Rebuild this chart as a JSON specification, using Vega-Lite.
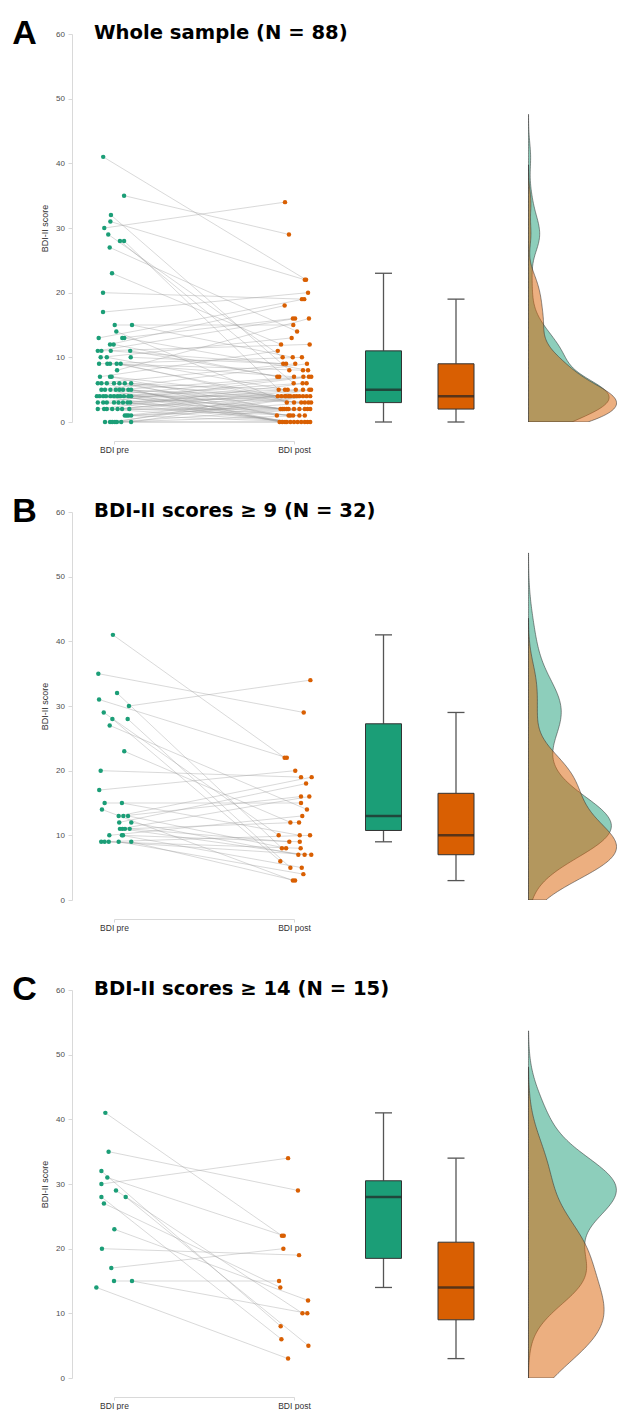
{
"$schema": "https://vega.github.io/schema/vega-lite/v6.json",
"padding": {"left": 11, "top": 16, "right": 0, "bottom": 0},
"background": "white",
"spacing": 40,
"config": {
  "view": {"stroke": null},
  "font": "Liberation Sans",
  "axisY": {"domainColor": "#d9d9d9", "tickColor": "#d9d9d9", "tickSize": 4, "labelFontSize": 8, "labelColor": "#4d4d4d", "labelPadding": 3.5, "titleFontSize": 9, "titleFontWeight": "normal", "titleColor": "#333333", "titlePadding": 6, "grid": false, "labelFont": "Liberation Sans", "titleFont": "Liberation Sans"}
},
"datasets": {
"A": [
{"id":1,"cond":"BDI pre","score":41,"jit":-0.06},{"id":1,"cond":"BDI post","score":22,"jit":0.067},
{"id":2,"cond":"BDI pre","score":35,"jit":0.056},{"id":2,"cond":"BDI post","score":29,"jit":-0.028},
{"id":3,"cond":"BDI pre","score":32,"jit":-0.017},{"id":3,"cond":"BDI post","score":8,"jit":-0.026},
{"id":4,"cond":"BDI pre","score":31,"jit":-0.02},{"id":4,"cond":"BDI post","score":22,"jit":0.06},
{"id":5,"cond":"BDI pre","score":30,"jit":-0.054},{"id":5,"cond":"BDI post","score":34,"jit":-0.05},
{"id":6,"cond":"BDI pre","score":29,"jit":-0.032},{"id":6,"cond":"BDI post","score":10,"jit":-0.063},
{"id":7,"cond":"BDI pre","score":28,"jit":0.033},{"id":7,"cond":"BDI post","score":6,"jit":-0.002},
{"id":8,"cond":"BDI pre","score":28,"jit":0.056},{"id":8,"cond":"BDI post","score":5,"jit":-0.085},
{"id":9,"cond":"BDI pre","score":27,"jit":-0.024},{"id":9,"cond":"BDI post","score":14,"jit":0.017},
{"id":10,"cond":"BDI pre","score":23,"jit":-0.011},{"id":10,"cond":"BDI post","score":12,"jit":-0.072},
{"id":11,"cond":"BDI pre","score":20,"jit":-0.061},{"id":11,"cond":"BDI post","score":19,"jit":0.044},
{"id":12,"cond":"BDI pre","score":17,"jit":-0.061},{"id":12,"cond":"BDI post","score":20,"jit":0.078},
{"id":13,"cond":"BDI pre","score":15,"jit":0.004},{"id":13,"cond":"BDI post","score":15,"jit":-0.004},
{"id":14,"cond":"BDI pre","score":15,"jit":0.1},{"id":14,"cond":"BDI post","score":10,"jit":-0.007},
{"id":15,"cond":"BDI pre","score":14,"jit":0.013},{"id":15,"cond":"BDI post","score":3,"jit":-0.04},
{"id":16,"cond":"BDI pre","score":13,"jit":-0.085},{"id":16,"cond":"BDI post","score":19,"jit":0.057},
{"id":17,"cond":"BDI pre","score":13,"jit":0.046},{"id":17,"cond":"BDI post","score":16,"jit":-0.006},
{"id":18,"cond":"BDI pre","score":13,"jit":0.057},{"id":18,"cond":"BDI post","score":8,"jit":0.078},
{"id":19,"cond":"BDI pre","score":12,"jit":-0.022},{"id":19,"cond":"BDI post","score":18,"jit":-0.052},
{"id":20,"cond":"BDI pre","score":12,"jit":-0.002},{"id":20,"cond":"BDI post","score":7,"jit":-0.093},
{"id":21,"cond":"BDI pre","score":11,"jit":-0.09},{"id":21,"cond":"BDI post","score":16,"jit":0.006},
{"id":22,"cond":"BDI pre","score":11,"jit":-0.07},{"id":22,"cond":"BDI post","score":12,"jit":0.087},
{"id":23,"cond":"BDI pre","score":11,"jit":-0.018},{"id":23,"cond":"BDI post","score":9,"jit":-0.06},
{"id":24,"cond":"BDI pre","score":11,"jit":0.09},{"id":24,"cond":"BDI post","score":7,"jit":-0.082},
{"id":25,"cond":"BDI pre","score":10,"jit":-0.074},{"id":25,"cond":"BDI post","score":13,"jit":-0.013},
{"id":26,"cond":"BDI pre","score":10,"jit":-0.04},{"id":26,"cond":"BDI post","score":5,"jit":-0.05},
{"id":27,"cond":"BDI pre","score":10,"jit":0.093},{"id":27,"cond":"BDI post","score":9,"jit":-0.044},
{"id":28,"cond":"BDI pre","score":9,"jit":-0.083},{"id":28,"cond":"BDI post","score":10,"jit":0.044},
{"id":29,"cond":"BDI pre","score":9,"jit":-0.037},{"id":29,"cond":"BDI post","score":8,"jit":0.05},
{"id":30,"cond":"BDI pre","score":9,"jit":-0.022},{"id":30,"cond":"BDI post","score":7,"jit":0.0},
{"id":31,"cond":"BDI pre","score":9,"jit":0.015},{"id":31,"cond":"BDI post","score":4,"jit":-0.09},
{"id":32,"cond":"BDI pre","score":9,"jit":0.037},{"id":32,"cond":"BDI post","score":3,"jit":0.0},
{"id":33,"cond":"BDI pre","score":8,"jit":0.017},{"id":33,"cond":"BDI post","score":16,"jit":0.083},
{"id":34,"cond":"BDI pre","score":7,"jit":-0.078},{"id":34,"cond":"BDI post","score":11,"jit":-0.09},
{"id":35,"cond":"BDI pre","score":7,"jit":-0.022},{"id":35,"cond":"BDI post","score":2,"jit":-0.075},
{"id":36,"cond":"BDI pre","score":7,"jit":-0.013},{"id":36,"cond":"BDI post","score":4,"jit":-0.07},
{"id":37,"cond":"BDI pre","score":6,"jit":-0.09},{"id":37,"cond":"BDI post","score":9,"jit":0.007},
{"id":38,"cond":"BDI pre","score":6,"jit":-0.07},{"id":38,"cond":"BDI post","score":0,"jit":-0.08},
{"id":39,"cond":"BDI pre","score":6,"jit":-0.04},{"id":39,"cond":"BDI post","score":4,"jit":-0.05},
{"id":40,"cond":"BDI pre","score":6,"jit":0.0},{"id":40,"cond":"BDI post","score":2,"jit":-0.065},
{"id":41,"cond":"BDI pre","score":6,"jit":0.03},{"id":41,"cond":"BDI post","score":5,"jit":-0.035},
{"id":42,"cond":"BDI pre","score":6,"jit":0.06},{"id":42,"cond":"BDI post","score":1,"jit":-0.095},
{"id":43,"cond":"BDI pre","score":6,"jit":0.095},{"id":43,"cond":"BDI post","score":3,"jit":0.04},
{"id":44,"cond":"BDI pre","score":5,"jit":-0.07},{"id":44,"cond":"BDI post","score":9,"jit":0.072},
{"id":45,"cond":"BDI pre","score":5,"jit":-0.05},{"id":45,"cond":"BDI post","score":0,"jit":-0.065},
{"id":46,"cond":"BDI pre","score":5,"jit":-0.02},{"id":46,"cond":"BDI post","score":2,"jit":-0.055},
{"id":47,"cond":"BDI pre","score":5,"jit":0.01},{"id":47,"cond":"BDI post","score":4,"jit":-0.045},
{"id":48,"cond":"BDI pre","score":5,"jit":0.03},{"id":48,"cond":"BDI post","score":7,"jit":0.052},
{"id":49,"cond":"BDI pre","score":5,"jit":0.05},{"id":49,"cond":"BDI post","score":1,"jit":-0.03},
{"id":50,"cond":"BDI pre","score":5,"jit":0.08},{"id":50,"cond":"BDI post","score":3,"jit":0.06},
{"id":51,"cond":"BDI pre","score":5,"jit":0.095},{"id":51,"cond":"BDI post","score":0,"jit":-0.05},
{"id":52,"cond":"BDI pre","score":4,"jit":-0.095},{"id":52,"cond":"BDI post","score":7,"jit":0.083},
{"id":53,"cond":"BDI pre","score":4,"jit":-0.08},{"id":53,"cond":"BDI post","score":0,"jit":-0.04},
{"id":54,"cond":"BDI pre","score":4,"jit":-0.06},{"id":54,"cond":"BDI post","score":2,"jit":-0.04},
{"id":55,"cond":"BDI pre","score":4,"jit":-0.045},{"id":55,"cond":"BDI post","score":4,"jit":-0.03},
{"id":56,"cond":"BDI pre","score":4,"jit":-0.02},{"id":56,"cond":"BDI post","score":5,"jit":0.01},
{"id":57,"cond":"BDI pre","score":4,"jit":0.0},{"id":57,"cond":"BDI post","score":1,"jit":-0.02},
{"id":58,"cond":"BDI pre","score":4,"jit":0.02},{"id":58,"cond":"BDI post","score":6,"jit":0.048},
{"id":59,"cond":"BDI pre","score":4,"jit":0.035},{"id":59,"cond":"BDI post","score":0,"jit":-0.02},
{"id":60,"cond":"BDI pre","score":4,"jit":0.055},{"id":60,"cond":"BDI post","score":2,"jit":-0.03},
{"id":61,"cond":"BDI pre","score":4,"jit":0.08},{"id":61,"cond":"BDI post","score":4,"jit":-0.02},
{"id":62,"cond":"BDI pre","score":4,"jit":0.095},{"id":62,"cond":"BDI post","score":3,"jit":0.08},
{"id":63,"cond":"BDI pre","score":3,"jit":-0.09},{"id":63,"cond":"BDI post","score":7,"jit":0.096},
{"id":64,"cond":"BDI pre","score":3,"jit":-0.06},{"id":64,"cond":"BDI post","score":0,"jit":0.0},
{"id":65,"cond":"BDI pre","score":3,"jit":-0.04},{"id":65,"cond":"BDI post","score":2,"jit":0.0},
{"id":66,"cond":"BDI pre","score":3,"jit":0.0},{"id":66,"cond":"BDI post","score":4,"jit":0.0},
{"id":67,"cond":"BDI pre","score":3,"jit":0.025},{"id":67,"cond":"BDI post","score":5,"jit":0.05},
{"id":68,"cond":"BDI pre","score":3,"jit":0.05},{"id":68,"cond":"BDI post","score":1,"jit":-0.005},
{"id":69,"cond":"BDI pre","score":3,"jit":0.075},{"id":69,"cond":"BDI post","score":0,"jit":0.02},
{"id":70,"cond":"BDI pre","score":3,"jit":0.09},{"id":70,"cond":"BDI post","score":4,"jit":0.015},
{"id":71,"cond":"BDI pre","score":2,"jit":-0.09},{"id":71,"cond":"BDI post","score":6,"jit":0.07},
{"id":72,"cond":"BDI pre","score":2,"jit":-0.055},{"id":72,"cond":"BDI post","score":2,"jit":0.03},
{"id":73,"cond":"BDI pre","score":2,"jit":-0.04},{"id":73,"cond":"BDI post","score":0,"jit":0.04},
{"id":74,"cond":"BDI pre","score":2,"jit":-0.01},{"id":74,"cond":"BDI post","score":4,"jit":0.03},
{"id":75,"cond":"BDI pre","score":2,"jit":0.02},{"id":75,"cond":"BDI post","score":5,"jit":0.085},
{"id":76,"cond":"BDI pre","score":2,"jit":0.045},{"id":76,"cond":"BDI post","score":2,"jit":0.06},
{"id":77,"cond":"BDI pre","score":2,"jit":0.085},{"id":77,"cond":"BDI post","score":1,"jit":0.03},
{"id":78,"cond":"BDI pre","score":1,"jit":0.06},{"id":78,"cond":"BDI post","score":4,"jit":0.05},
{"id":79,"cond":"BDI pre","score":1,"jit":0.07},{"id":79,"cond":"BDI post","score":0,"jit":0.06},
{"id":80,"cond":"BDI pre","score":1,"jit":0.08},{"id":80,"cond":"BDI post","score":2,"jit":0.075},
{"id":81,"cond":"BDI pre","score":1,"jit":0.095},{"id":81,"cond":"BDI post","score":3,"jit":0.095},
{"id":82,"cond":"BDI pre","score":0,"jit":-0.05},{"id":82,"cond":"BDI post","score":0,"jit":0.075},
{"id":83,"cond":"BDI pre","score":0,"jit":-0.022},{"id":83,"cond":"BDI post","score":4,"jit":0.07},
{"id":84,"cond":"BDI pre","score":0,"jit":-0.01},{"id":84,"cond":"BDI post","score":2,"jit":0.09},
{"id":85,"cond":"BDI pre","score":0,"jit":0.005},{"id":85,"cond":"BDI post","score":5,"jit":0.095},
{"id":86,"cond":"BDI pre","score":0,"jit":0.016},{"id":86,"cond":"BDI post","score":1,"jit":0.06},
{"id":87,"cond":"BDI pre","score":0,"jit":0.04},{"id":87,"cond":"BDI post","score":0,"jit":0.09},
{"id":88,"cond":"BDI pre","score":0,"jit":0.095},{"id":88,"cond":"BDI post","score":4,"jit":0.09}
],
"B": [
{"id":1,"cond":"BDI pre","score":41,"jit":-0.006},{"id":1,"cond":"BDI post","score":22,"jit":-0.052},
{"id":2,"cond":"BDI pre","score":35,"jit":-0.087},{"id":2,"cond":"BDI post","score":29,"jit":0.054},
{"id":3,"cond":"BDI pre","score":32,"jit":0.017},{"id":3,"cond":"BDI post","score":8,"jit":-0.067},
{"id":4,"cond":"BDI pre","score":31,"jit":-0.083},{"id":4,"cond":"BDI post","score":22,"jit":-0.04},
{"id":5,"cond":"BDI pre","score":30,"jit":0.083},{"id":5,"cond":"BDI post","score":34,"jit":0.091},
{"id":6,"cond":"BDI pre","score":29,"jit":-0.057},{"id":6,"cond":"BDI post","score":10,"jit":-0.085},
{"id":7,"cond":"BDI pre","score":28,"jit":-0.009},{"id":7,"cond":"BDI post","score":6,"jit":-0.076},
{"id":8,"cond":"BDI pre","score":28,"jit":0.076},{"id":8,"cond":"BDI post","score":5,"jit":-0.02},
{"id":9,"cond":"BDI pre","score":27,"jit":-0.024},{"id":9,"cond":"BDI post","score":14,"jit":0.072},
{"id":10,"cond":"BDI pre","score":23,"jit":0.057},{"id":10,"cond":"BDI post","score":12,"jit":-0.02},
{"id":11,"cond":"BDI pre","score":20,"jit":-0.074},{"id":11,"cond":"BDI post","score":19,"jit":0.039},
{"id":12,"cond":"BDI pre","score":17,"jit":-0.082},{"id":12,"cond":"BDI post","score":20,"jit":0.007},
{"id":13,"cond":"BDI pre","score":15,"jit":-0.052},{"id":13,"cond":"BDI post","score":15,"jit":0.039},
{"id":14,"cond":"BDI pre","score":15,"jit":0.044},{"id":14,"cond":"BDI post","score":10,"jit":0.032},
{"id":15,"cond":"BDI pre","score":14,"jit":-0.067},{"id":15,"cond":"BDI post","score":3,"jit":-0.006},
{"id":16,"cond":"BDI pre","score":13,"jit":0.026},{"id":16,"cond":"BDI post","score":19,"jit":0.098},
{"id":17,"cond":"BDI pre","score":13,"jit":0.052},{"id":17,"cond":"BDI post","score":16,"jit":0.039},
{"id":18,"cond":"BDI pre","score":13,"jit":0.078},{"id":18,"cond":"BDI post","score":8,"jit":-0.044},
{"id":19,"cond":"BDI pre","score":12,"jit":0.029},{"id":19,"cond":"BDI post","score":18,"jit":0.067},
{"id":20,"cond":"BDI pre","score":12,"jit":0.096},{"id":20,"cond":"BDI post","score":7,"jit":0.024},
{"id":21,"cond":"BDI pre","score":11,"jit":0.033},{"id":21,"cond":"BDI post","score":16,"jit":0.085},
{"id":22,"cond":"BDI pre","score":11,"jit":0.061},{"id":22,"cond":"BDI post","score":12,"jit":0.028},
{"id":23,"cond":"BDI pre","score":11,"jit":0.087},{"id":23,"cond":"BDI post","score":9,"jit":-0.026},
{"id":24,"cond":"BDI pre","score":11,"jit":0.047},{"id":24,"cond":"BDI post","score":7,"jit":0.059},
{"id":25,"cond":"BDI pre","score":10,"jit":-0.026},{"id":25,"cond":"BDI post","score":13,"jit":0.046},
{"id":26,"cond":"BDI pre","score":10,"jit":0.044},{"id":26,"cond":"BDI post","score":5,"jit":0.043},
{"id":27,"cond":"BDI pre","score":10,"jit":0.05},{"id":27,"cond":"BDI post","score":9,"jit":0.032},
{"id":28,"cond":"BDI pre","score":9,"jit":-0.071},{"id":28,"cond":"BDI post","score":10,"jit":0.089},
{"id":29,"cond":"BDI pre","score":9,"jit":-0.052},{"id":29,"cond":"BDI post","score":8,"jit":0.037},
{"id":30,"cond":"BDI pre","score":9,"jit":-0.029},{"id":30,"cond":"BDI post","score":7,"jit":0.096},
{"id":31,"cond":"BDI pre","score":9,"jit":0.026},{"id":31,"cond":"BDI post","score":4,"jit":0.052},
{"id":32,"cond":"BDI pre","score":9,"jit":0.096},{"id":32,"cond":"BDI post","score":3,"jit":0.006}
],
"C": [
{"id":1,"cond":"BDI pre","score":41,"jit":-0.048},{"id":1,"cond":"BDI post","score":22,"jit":-0.067},
{"id":2,"cond":"BDI pre","score":35,"jit":-0.03},{"id":2,"cond":"BDI post","score":29,"jit":0.022},
{"id":3,"cond":"BDI pre","score":32,"jit":-0.07},{"id":3,"cond":"BDI post","score":8,"jit":-0.074},
{"id":4,"cond":"BDI pre","score":31,"jit":-0.037},{"id":4,"cond":"BDI post","score":22,"jit":-0.057},
{"id":5,"cond":"BDI pre","score":30,"jit":-0.07},{"id":5,"cond":"BDI post","score":34,"jit":-0.033},
{"id":6,"cond":"BDI pre","score":29,"jit":0.011},{"id":6,"cond":"BDI post","score":10,"jit":0.047},
{"id":7,"cond":"BDI pre","score":28,"jit":-0.07},{"id":7,"cond":"BDI post","score":6,"jit":-0.07},
{"id":8,"cond":"BDI pre","score":28,"jit":0.065},{"id":8,"cond":"BDI post","score":5,"jit":0.08},
{"id":9,"cond":"BDI pre","score":27,"jit":-0.056},{"id":9,"cond":"BDI post","score":14,"jit":-0.076},
{"id":10,"cond":"BDI pre","score":23,"jit":0.002},{"id":10,"cond":"BDI post","score":12,"jit":0.078},
{"id":11,"cond":"BDI pre","score":20,"jit":-0.067},{"id":11,"cond":"BDI post","score":19,"jit":0.028},
{"id":12,"cond":"BDI pre","score":17,"jit":-0.015},{"id":12,"cond":"BDI post","score":20,"jit":-0.059},
{"id":13,"cond":"BDI pre","score":15,"jit":0.0},{"id":13,"cond":"BDI post","score":15,"jit":-0.083},
{"id":14,"cond":"BDI pre","score":15,"jit":0.1},{"id":14,"cond":"BDI post","score":10,"jit":0.074},
{"id":15,"cond":"BDI pre","score":14,"jit":-0.098},{"id":15,"cond":"BDI post","score":3,"jit":-0.033}
]
},
"vconcat": [
{
 "width": 546, "height": 388,
 "data": {"name": "A"},
 "layer": [
  {"layer": [
    {"mark": {"type": "line", "stroke": "#9a9a9a", "strokeWidth": 0.7, "opacity": 0.55},
     "encoding": {
      "x": {"field": "cond", "type": "nominal", "scale": {"type": "point", "domain": ["BDI pre", "BDI post"], "range": [42, 222], "padding": 0},
            "axis": {"title": null, "orient": "bottom", "offset": 19, "domainColor": "#d9d9d9", "tickColor": "#d9d9d9", "tickSize": 3, "labelFontSize": 8.5, "labelColor": "#333333", "labelPadding": 1.5, "labelAngle": 0, "labelFont": "Liberation Sans"}},
      "xOffset": {"field": "jit", "type": "quantitative", "scale": {"domain": [-1, 1], "range": [-180, 180]}},
      "y": {"field": "score", "type": "quantitative", "title": "BDI-II score", "scale": {"domain": [0, 60], "nice": false, "zero": false}, "axis": {"title": "BDI-II score", "values": [0, 10, 20, 30, 40, 50, 60]}},
      "detail": {"field": "id", "type": "nominal"}
     }},
    {"mark": {"type": "circle", "size": 20, "opacity": 1},
     "encoding": {
      "x": {"field": "cond", "type": "nominal", "scale": {"type": "point", "domain": ["BDI pre", "BDI post"], "range": [42, 222], "padding": 0}},
      "xOffset": {"field": "jit", "type": "quantitative", "scale": {"domain": [-1, 1], "range": [-180, 180]}},
      "y": {"field": "score", "type": "quantitative", "title": "BDI-II score", "scale": {"domain": [0, 60], "nice": false, "zero": false}},
      "color": {"field": "cond", "type": "nominal", "scale": {"domain": ["BDI pre", "BDI post"], "range": ["#1b9e77", "#d95f02"]}, "legend": null}
     }}
  ]},
  {"mark": {"type": "boxplot", "extent": 1.5, "size": 36, "outliers": false,
            "box": {"stroke": "#333333", "strokeWidth": 1},
            "median": {"color": "#222222", "thickness": 2.5},
            "rule": {"color": "#555555", "strokeWidth": 1.3},
            "ticks": {"color": "#555555", "size": 17, "thickness": 1.3}},
   "encoding": {
    "x": {"field": "cond", "type": "nominal", "scale": {"type": "point", "domain": ["BDI pre", "BDI post"], "range": [311.5, 384], "padding": 0}, "axis": null},
    "y": {"field": "score", "type": "quantitative", "title": "BDI-II score", "scale": {"domain": [0, 60], "nice": false, "zero": false}},
    "color": {"field": "cond", "type": "nominal", "legend": null}
   }},
  {"transform": [{"filter": {"field": "cond", "equal": "BDI pre"}}, {"density": "score", "bandwidth": 2.194, "extent": [0, 47.58], "steps": 200, "as": ["score", "density"]}],
   "mark": {"type": "area", "orient": "horizontal", "fill": "#1b9e77", "fillOpacity": 0.5, "stroke": "#333333", "strokeWidth": 0.6, "strokeOpacity": 0.9, "clip": true},
   "encoding": {
    "x": {"field": "density", "type": "quantitative", "stack": null, "scale": {"domain": [-0.4617, 0.0905], "nice": false, "zero": false},
          "axis": {"orient": "top", "domain": false, "ticks": false, "labels": false, "grid": false, "title": "A", "titleFont": "Liberation Sans", "titleFontSize": 34, "titleFontWeight": "bold", "titleColor": "#000000", "titleX": -60.3, "titleY": 9.7, "titleAlign": "left", "titleBaseline": "alphabetic", "titleAngle": 0}},
    "y": {"field": "score", "type": "quantitative", "title": "BDI-II score", "scale": {"domain": [0, 60], "nice": false, "zero": false}}
   }},
  {"transform": [{"filter": {"field": "cond", "equal": "BDI post"}}, {"density": "score", "bandwidth": 1.92, "extent": [0, 39.76], "steps": 200, "as": ["score", "density"]}],
   "mark": {"type": "area", "orient": "horizontal", "fill": "#d95f02", "fillOpacity": 0.5, "stroke": "#333333", "strokeWidth": 0.6, "strokeOpacity": 0.9, "clip": true},
   "encoding": {
    "x": {"field": "density", "type": "quantitative", "stack": null, "scale": {"domain": [-0.4617, 0.0905], "nice": false, "zero": false},
          "axis": {"orient": "top", "domain": false, "ticks": false, "labels": false, "grid": false, "title": "Whole sample (N = 88)", "titleFont": "DejaVu Sans", "titleFontSize": 19.6, "titleFontWeight": "bold", "titleColor": "#000000", "titleX": 21.5, "titleY": 4.3, "titleAlign": "left", "titleBaseline": "alphabetic", "titleAngle": 0}},
    "y": {"field": "score", "type": "quantitative", "title": "BDI-II score", "scale": {"domain": [0, 60], "nice": false, "zero": false}}
   }}
 ],
 "resolve": {"scale": {"x": "independent", "xOffset": "independent"}, "axis": {"x": "independent"}}
},
{
 "width": 546, "height": 388,
 "data": {"name": "B"},
 "layer": [
  {"layer": [
    {"mark": {"type": "line", "stroke": "#9a9a9a", "strokeWidth": 0.7, "opacity": 0.55},
     "encoding": {
      "x": {"field": "cond", "type": "nominal", "scale": {"type": "point", "domain": ["BDI pre", "BDI post"], "range": [42, 222], "padding": 0},
            "axis": {"title": null, "orient": "bottom", "offset": 19, "domainColor": "#d9d9d9", "tickColor": "#d9d9d9", "tickSize": 3, "labelFontSize": 8.5, "labelColor": "#333333", "labelPadding": 1.5, "labelAngle": 0, "labelFont": "Liberation Sans"}},
      "xOffset": {"field": "jit", "type": "quantitative", "scale": {"domain": [-1, 1], "range": [-180, 180]}},
      "y": {"field": "score", "type": "quantitative", "title": "BDI-II score", "scale": {"domain": [0, 60], "nice": false, "zero": false}, "axis": {"title": "BDI-II score", "values": [0, 10, 20, 30, 40, 50, 60]}},
      "detail": {"field": "id", "type": "nominal"}
     }},
    {"mark": {"type": "circle", "size": 20, "opacity": 1},
     "encoding": {
      "x": {"field": "cond", "type": "nominal", "scale": {"type": "point", "domain": ["BDI pre", "BDI post"], "range": [42, 222], "padding": 0}},
      "xOffset": {"field": "jit", "type": "quantitative", "scale": {"domain": [-1, 1], "range": [-180, 180]}},
      "y": {"field": "score", "type": "quantitative", "title": "BDI-II score", "scale": {"domain": [0, 60], "nice": false, "zero": false}},
      "color": {"field": "cond", "type": "nominal", "scale": {"domain": ["BDI pre", "BDI post"], "range": ["#1b9e77", "#d95f02"]}, "legend": null}
     }}
  ]},
  {"mark": {"type": "boxplot", "extent": 1.5, "size": 36, "outliers": false,
            "box": {"stroke": "#333333", "strokeWidth": 1},
            "median": {"color": "#222222", "thickness": 2.5},
            "rule": {"color": "#555555", "strokeWidth": 1.3},
            "ticks": {"color": "#555555", "size": 17, "thickness": 1.3}},
   "encoding": {
    "x": {"field": "cond", "type": "nominal", "scale": {"type": "point", "domain": ["BDI pre", "BDI post"], "range": [311.5, 384], "padding": 0}, "axis": null},
    "y": {"field": "score", "type": "quantitative", "title": "BDI-II score", "scale": {"domain": [0, 60], "nice": false, "zero": false}},
    "color": {"field": "cond", "type": "nominal", "legend": null}
   }},
  {"transform": [{"filter": {"field": "cond", "equal": "BDI pre"}}, {"density": "score", "bandwidth": 4.223, "extent": [0, 53.67], "steps": 200, "as": ["score", "density"]}],
   "mark": {"type": "area", "orient": "horizontal", "fill": "#1b9e77", "fillOpacity": 0.5, "stroke": "#333333", "strokeWidth": 0.6, "strokeOpacity": 0.9, "clip": true},
   "encoding": {
    "x": {"field": "density", "type": "quantitative", "stack": null, "scale": {"domain": [-0.303, 0.0594], "nice": false, "zero": false},
          "axis": {"orient": "top", "domain": false, "ticks": false, "labels": false, "grid": false, "title": "B", "titleFont": "Liberation Sans", "titleFontSize": 34, "titleFontWeight": "bold", "titleColor": "#000000", "titleX": -60.3, "titleY": 9.7, "titleAlign": "left", "titleBaseline": "alphabetic", "titleAngle": 0}},
    "y": {"field": "score", "type": "quantitative", "title": "BDI-II score", "scale": {"domain": [0, 60], "nice": false, "zero": false}}
   }},
  {"transform": [{"filter": {"field": "cond", "equal": "BDI post"}}, {"density": "score", "bandwidth": 3.19, "extent": [0, 43.57], "steps": 200, "as": ["score", "density"]}],
   "mark": {"type": "area", "orient": "horizontal", "fill": "#d95f02", "fillOpacity": 0.5, "stroke": "#333333", "strokeWidth": 0.6, "strokeOpacity": 0.9, "clip": true},
   "encoding": {
    "x": {"field": "density", "type": "quantitative", "stack": null, "scale": {"domain": [-0.303, 0.0594], "nice": false, "zero": false},
          "axis": {"orient": "top", "domain": false, "ticks": false, "labels": false, "grid": false, "title": "BDI-II scores ≥ 9 (N = 32)", "titleFont": "DejaVu Sans", "titleFontSize": 19.6, "titleFontWeight": "bold", "titleColor": "#000000", "titleX": 21.5, "titleY": 4.3, "titleAlign": "left", "titleBaseline": "alphabetic", "titleAngle": 0}},
    "y": {"field": "score", "type": "quantitative", "title": "BDI-II score", "scale": {"domain": [0, 60], "nice": false, "zero": false}}
   }}
 ],
 "resolve": {"scale": {"x": "independent", "xOffset": "independent"}, "axis": {"x": "independent"}}
},
{
 "width": 546, "height": 388,
 "data": {"name": "C"},
 "layer": [
  {"layer": [
    {"mark": {"type": "line", "stroke": "#9a9a9a", "strokeWidth": 0.7, "opacity": 0.55},
     "encoding": {
      "x": {"field": "cond", "type": "nominal", "scale": {"type": "point", "domain": ["BDI pre", "BDI post"], "range": [42, 222], "padding": 0},
            "axis": {"title": null, "orient": "bottom", "offset": 19, "domainColor": "#d9d9d9", "tickColor": "#d9d9d9", "tickSize": 3, "labelFontSize": 8.5, "labelColor": "#333333", "labelPadding": 1.5, "labelAngle": 0, "labelFont": "Liberation Sans"}},
      "xOffset": {"field": "jit", "type": "quantitative", "scale": {"domain": [-1, 1], "range": [-180, 180]}},
      "y": {"field": "score", "type": "quantitative", "title": "BDI-II score", "scale": {"domain": [0, 60], "nice": false, "zero": false}, "axis": {"title": "BDI-II score", "values": [0, 10, 20, 30, 40, 50, 60]}},
      "detail": {"field": "id", "type": "nominal"}
     }},
    {"mark": {"type": "circle", "size": 20, "opacity": 1},
     "encoding": {
      "x": {"field": "cond", "type": "nominal", "scale": {"type": "point", "domain": ["BDI pre", "BDI post"], "range": [42, 222], "padding": 0}},
      "xOffset": {"field": "jit", "type": "quantitative", "scale": {"domain": [-1, 1], "range": [-180, 180]}},
      "y": {"field": "score", "type": "quantitative", "title": "BDI-II score", "scale": {"domain": [0, 60], "nice": false, "zero": false}},
      "color": {"field": "cond", "type": "nominal", "scale": {"domain": ["BDI pre", "BDI post"], "range": ["#1b9e77", "#d95f02"]}, "legend": null}
     }}
  ]},
  {"mark": {"type": "boxplot", "extent": 1.5, "size": 36, "outliers": false,
            "box": {"stroke": "#333333", "strokeWidth": 1},
            "median": {"color": "#222222", "thickness": 2.5},
            "rule": {"color": "#555555", "strokeWidth": 1.3},
            "ticks": {"color": "#555555", "size": 17, "thickness": 1.3}},
   "encoding": {
    "x": {"field": "cond", "type": "nominal", "scale": {"type": "point", "domain": ["BDI pre", "BDI post"], "range": [311.5, 384], "padding": 0}, "axis": null},
    "y": {"field": "score", "type": "quantitative", "title": "BDI-II score", "scale": {"domain": [0, 60], "nice": false, "zero": false}},
    "color": {"field": "cond", "type": "nominal", "legend": null}
   }},
  {"transform": [{"filter": {"field": "cond", "equal": "BDI pre"}}, {"density": "score", "bandwidth": 4.225, "extent": [0, 53.68], "steps": 200, "as": ["score", "density"]}],
   "mark": {"type": "area", "orient": "horizontal", "fill": "#1b9e77", "fillOpacity": 0.5, "stroke": "#333333", "strokeWidth": 0.6, "strokeOpacity": 0.9, "clip": true},
   "encoding": {
    "x": {"field": "density", "type": "quantitative", "stack": null, "scale": {"domain": [-0.2407, 0.0472], "nice": false, "zero": false},
          "axis": {"orient": "top", "domain": false, "ticks": false, "labels": false, "grid": false, "title": "C", "titleFont": "Liberation Sans", "titleFontSize": 34, "titleFontWeight": "bold", "titleColor": "#000000", "titleX": -60.3, "titleY": 9.7, "titleAlign": "left", "titleBaseline": "alphabetic", "titleAngle": 0}},
    "y": {"field": "score", "type": "quantitative", "title": "BDI-II score", "scale": {"domain": [0, 60], "nice": false, "zero": false}}
   }},
  {"transform": [{"filter": {"field": "cond", "equal": "BDI post"}}, {"density": "score", "bandwidth": 4.689, "extent": [0, 48.07], "steps": 200, "as": ["score", "density"]}],
   "mark": {"type": "area", "orient": "horizontal", "fill": "#d95f02", "fillOpacity": 0.5, "stroke": "#333333", "strokeWidth": 0.6, "strokeOpacity": 0.9, "clip": true},
   "encoding": {
    "x": {"field": "density", "type": "quantitative", "stack": null, "scale": {"domain": [-0.2407, 0.0472], "nice": false, "zero": false},
          "axis": {"orient": "top", "domain": false, "ticks": false, "labels": false, "grid": false, "title": "BDI-II scores ≥ 14 (N = 15)", "titleFont": "DejaVu Sans", "titleFontSize": 19.6, "titleFontWeight": "bold", "titleColor": "#000000", "titleX": 21.5, "titleY": 4.3, "titleAlign": "left", "titleBaseline": "alphabetic", "titleAngle": 0}},
    "y": {"field": "score", "type": "quantitative", "title": "BDI-II score", "scale": {"domain": [0, 60], "nice": false, "zero": false}}
   }}
 ],
 "resolve": {"scale": {"x": "independent", "xOffset": "independent"}, "axis": {"x": "independent"}}
}
]
}
